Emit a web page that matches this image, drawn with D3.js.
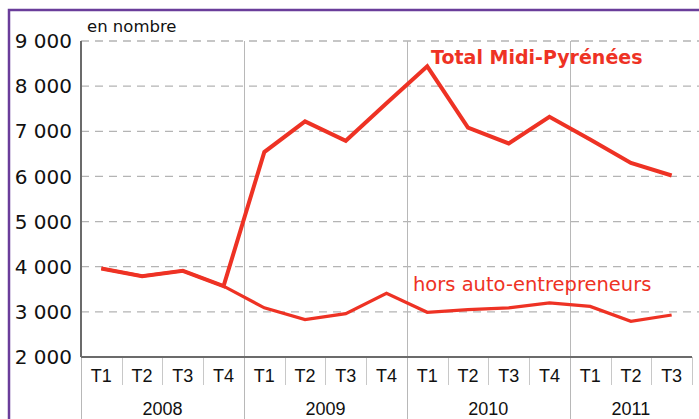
<!DOCTYPE html>
<html>
<head>
<meta charset="utf-8">
<script src="https://cdn.jsdelivr.net/npm/d3@7"></script>
<style>
  body { margin: 0; background: #fff; }
  text { font-family: "DejaVu Sans", Verdana, sans-serif; }
  .arial { font-family: "Liberation Sans", Arial, sans-serif; }
</style>
</head>
<body>
<div id="chart"></div>
<script>
// data
var years = ["2008", "2009", "2010", "2011"];
var quarters = ["T1", "T2", "T3", "T4", "T1", "T2", "T3", "T4", "T1", "T2", "T3", "T4", "T1", "T2", "T3"];
var total = [3960, 3790, 3910, 3570, 6540, 7220, 6790, 7620, 8440, 7080, 6730, 7320, 6820, 6300, 6020];
var horsAE = [3960, 3790, 3910, 3570, 3090, 2830, 2960, 3410, 2990, 3050, 3090, 3200, 3120, 2790, 2930];
var yTicks = [2000, 3000, 4000, 5000, 6000, 7000, 8000, 9000];

var svgWidth = 699, svgHeight = 419;
var margin = { top: 41, left: 81, right: 7, bottom: 62 };
var width = svgWidth - margin.left - margin.right;
var height = svgHeight - margin.top - margin.bottom;
var red = "#ee3224";

var svg = d3.select("#chart").append("svg")
    .attr("width", svgWidth)
    .attr("height", svgHeight);

// purple frame
svg.append("path")
    .attr("d", "M9,419 V10 H699")
    .attr("fill", "none")
    .attr("stroke", "#6a3d9a")
    .attr("stroke-width", 2.5);

var g = svg.append("g")
    .attr("transform", `translate(${margin.left}, ${margin.top})`);

var x = d3.scaleBand()
    .domain(d3.range(quarters.length))
    .range([0, width]);

var y = d3.scaleLinear()
    .domain([2000, 9000])
    .range([height, 0]);

// dashed gridlines
g.selectAll(".grid")
    .data(yTicks.slice(1))
    .enter().append("line")
    .attr("x1", 0)
    .attr("x2", svgWidth - margin.left)
    .attr("y1", d => y(d))
    .attr("y2", d => y(d))
    .attr("stroke", "#b4b4b4")
    .attr("stroke-width", 1.3)
    .attr("stroke-dasharray", "8,6");

// year separators (full height)
var yearStarts = [4, 8, 12];
g.selectAll(".ysep")
    .data(yearStarts)
    .enter().append("line")
    .attr("x1", d => Math.round(x(d)) + 0.5)
    .attr("x2", d => Math.round(x(d)) + 0.5)
    .attr("y1", 0)
    .attr("y2", svgHeight - margin.top)
    .attr("stroke", "#b8b8b8")
    .attr("stroke-width", 1);

// left continuation below axis
g.append("line")
    .attr("x1", 0.5).attr("x2", 0.5)
    .attr("y1", height).attr("y2", svgHeight - margin.top)
    .attr("stroke", "#b8b8b8");

// quarter separators
g.selectAll(".qsep")
    .data(d3.range(1, quarters.length + 1).filter(i => yearStarts.indexOf(i) < 0))
    .enter().append("line")
    .attr("x1", d => Math.round(x(d) || width) + 0.5)
    .attr("x2", d => Math.round(x(d) || width) + 0.5)
    .attr("y1", height)
    .attr("y2", height + 28)
    .attr("stroke", "#c8c8c8");

// axes lines
g.append("line")
    .attr("x1", 0).attr("x2", 0)
    .attr("y1", 0).attr("y2", height)
    .attr("stroke", "#6b6b6b").attr("stroke-width", 2);
g.append("line")
    .attr("x1", 0).attr("x2", width)
    .attr("y1", height).attr("y2", height)
    .attr("stroke", "#6b6b6b").attr("stroke-width", 2);

// y labels
g.selectAll(".ylab")
    .data(yTicks)
    .enter().append("text")
    .attr("x", -9)
    .attr("y", d => y(d))
    .attr("dy", "0.36em")
    .attr("text-anchor", "end")
    .attr("font-size", 20)
    .attr("fill", "#111")
    .text(d => d3.format(",")(d).replace(",", " "));

// quarter labels
g.selectAll(".qlab")
    .data(quarters)
    .enter().append("text")
    .attr("class", "arial")
    .attr("x", (d, i) => x(i) + x.bandwidth() / 2)
    .attr("y", 382 - margin.top)
    .attr("text-anchor", "middle")
    .attr("font-size", 18)
    .attr("fill", "#111")
    .text(d => d);

// year labels
g.selectAll(".yrlab")
    .data(years)
    .enter().append("text")
    .attr("class", "arial")
    .attr("x", (d, i) => {
        var a = i * 4, b = Math.min(i * 4 + 3, quarters.length - 1);
        return (x(a) + x(b) + x.bandwidth()) / 2;
    })
    .attr("y", 415 - margin.top)
    .attr("text-anchor", "middle")
    .attr("font-size", 18)
    .attr("fill", "#111")
    .text(d => d);

// lines
var line = d3.line()
    .x((d, i) => x(i) + x.bandwidth() / 2)
    .y(d => y(d));

g.append("path")
    .datum(horsAE)
    .attr("d", line)
    .attr("fill", "none")
    .attr("stroke", red)
    .attr("stroke-width", 3.2);

g.append("path")
    .datum(total)
    .attr("d", line)
    .attr("fill", "none")
    .attr("stroke", red)
    .attr("stroke-width", 4);

// labels
svg.append("text")
    .attr("x", 87).attr("y", 32)
    .attr("font-size", 16.5)
    .attr("fill", "#111")
    .text("en nombre");

svg.append("text")
    .attr("x", 431).attr("y", 64)
    .attr("font-size", 19)
    .attr("font-weight", "bold")
    .attr("fill", red)
    .text("Total Midi-Pyrénées");

svg.append("text")
    .attr("x", 413).attr("y", 291)
    .attr("font-size", 19.5)
    .attr("fill", red)
    .text("hors auto-entrepreneurs");
</script>
</body>
</html>
